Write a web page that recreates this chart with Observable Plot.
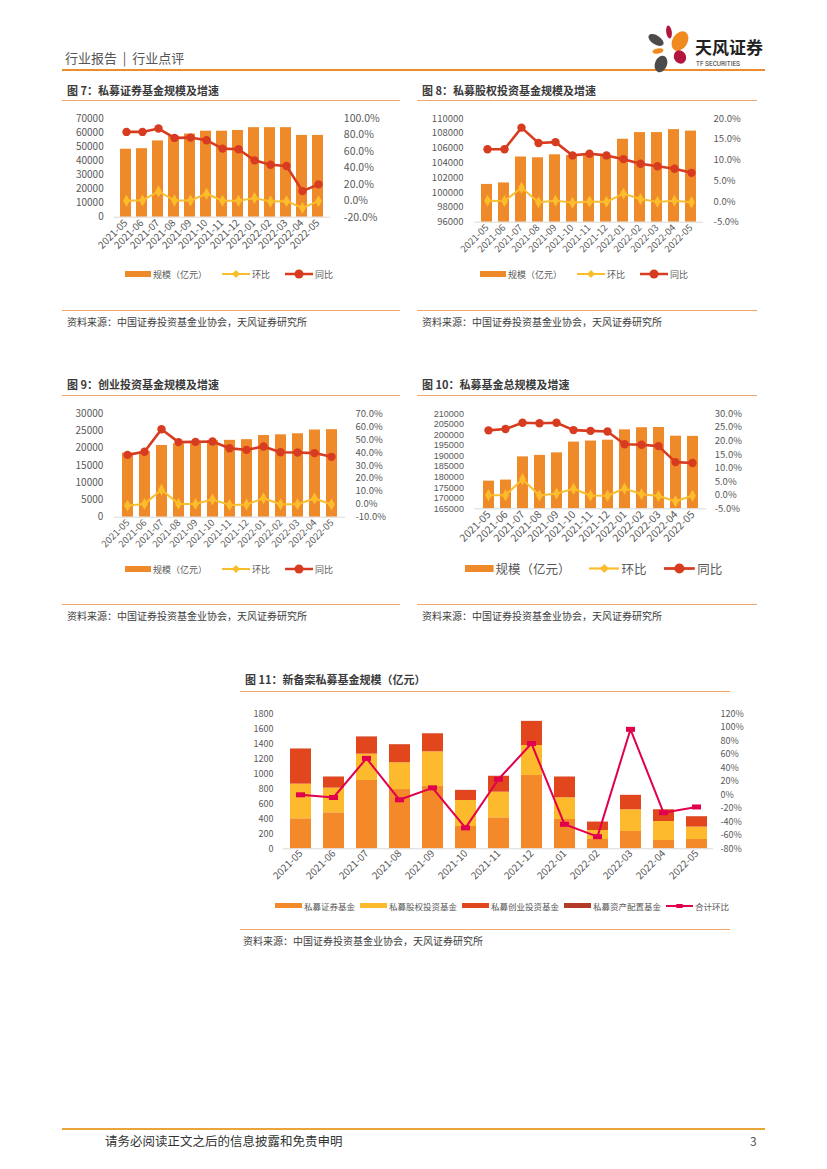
<!DOCTYPE html>
<html><head><meta charset="utf-8">
<script src="https://cdn.jsdelivr.net/npm/d3@7"></script>
<script src="https://cdn.jsdelivr.net/npm/@observablehq/plot@0.6"></script>
<style>
body{margin:0;background:#fff;}
#page{position:relative;width:827px;height:1169px;overflow:hidden;font-family:"Noto Sans CJK SC","Noto Sans",sans-serif;color:#404040;background:#fff;}
.txt{position:absolute;white-space:pre;line-height:1;}
.title{font-weight:bold;font-size:11px;color:#3a3a3a;}
.rule{position:absolute;height:1px;background:#F2A66A;}
.src{font-size:10px;color:#404040;}
.legend{position:absolute;display:flex;align-items:center;white-space:nowrap;color:#595959;}
.legend .item{display:flex;align-items:center;}
.legend svg{display:block;}
</style></head><body><div id="page"></div><script>
// ---------- data ----------
const months = ["2021-05","2021-06","2021-07","2021-08","2021-09","2021-10","2021-11","2021-12","2022-01","2022-02","2022-03","2022-04","2022-05"];

// 图7 私募证券基金
const secScale = [48200,48600,54100,57500,59000,61000,61000,61500,63500,63500,63500,58000,58000];
const secMoM   = [0,0.5,11.3,0.3,0.3,8.5,0,0,3.2,-0.9,-0.5,-8.7,-0.5];
const secYoY   = [83.7,83.7,87.8,76.4,76.8,73.6,63.4,62.6,49.1,43.8,42.3,11.7,19.9];
const secLeftTicks  = [0,10000,20000,30000,40000,50000,60000,70000];
const secRightTicks = [-20,0,20,40,60,80,100];

// 图8 私募股权投资基金
const peScale = [101100,101300,104800,104700,105100,105000,105000,105000,107200,108100,108100,108500,108300];
const peMoM   = [0.2,0.1,3.3,-0.2,0.2,-0.3,0,-0.1,1.9,0.6,-0.1,0.2,-0.2];
const peYoY   = [12.6,12.6,17.8,14.1,14.3,11.1,11.5,11.1,10.2,9.1,8.5,7.9,6.9];
const peLeftTicks  = [96000,98000,100000,102000,104000,106000,108000,110000];
const peRightTicks = [-5,0,5,10,15,20];

// 图9 创业投资基金
const vcScale = [18600,19000,20800,21300,21600,22200,22300,22500,23700,23900,24200,25300,25400];
const vcMoM   = [-1,0.3,11.2,0.3,0.3,3.7,-0.5,-0.2,4.7,0,0,4.5,-0.2];
const vcYoY   = [38.2,40.6,58.1,48.1,48.3,48.6,43.4,42.1,44.7,40.3,40.1,39.6,36.7];
const vcLeftTicks  = [0,5000,10000,15000,20000,25000,30000];
const vcRightTicks = [-10,0,10,20,30,40,50,60,70];

// 图10 私募基金总规模
const totScale = [178100,178600,189600,190300,191500,196600,197100,197500,202400,203400,203500,199400,199300];
const totMoM   = [0,0,5.9,-0.1,0.6,2.4,-0.1,-0.2,2.5,0.4,-0.3,-2.2,-0.2];
const totYoY   = [23.9,24.4,26.7,26.5,26.7,24.0,23.7,23.5,18.8,18.6,18.1,12.2,11.9];
const totLeftTicks  = [165000,170000,175000,180000,185000,190000,195000,200000,205000,210000];
const totRightTicks = [-5,0,5,10,15,20,25,30];

// 图11 新备案私募基金规模（亿元）
const series11 = ["私募证券基金","私募股权投资基金","私募创业投资基金","私募资产配置基金"];
const newSec   = [400,480,911,790,830,297,413,977,391,124,231,111,124];
const newPe    = [462,329,351,357,463,347,342,400,289,120,289,253,165];
const newVc    = [467,147,227,240,240,133,209,320,275,111,191,156,138];
const newAlloc = [3,2,4,3,2,2,3,2,3,2,2,2,2];
const newTotalMoM = [0,-4,54,-7.4,10.3,-49,23,76,-43.7,-62,97,-26.5,-18];
const leftTicks11  = [0,200,400,600,800,1000,1200,1400,1600,1800];
const rightTicks11 = [-80,-60,-40,-20,0,20,40,60,80,100,120];

const legendDual = ["规模（亿元）","环比","同比"];
const sourceText = "资料来源：中国证券投资基金业协会，天风证券研究所";

// ---------- style ----------
const FONT = '"Noto Sans CJK SC","Noto Sans",sans-serif';
const BAR = "#EF8A2B", YEL = "#FBBD2C", RED = "#D83C20";
const colors11 = ["#F4892A","#FDBA2C","#E2461D","#B23A26"];
const LINE11 = "#E0004D";
const page = document.getElementById("page");

function txt(text, x, y, cls, extra) {
  const d = document.createElement("div");
  d.className = "txt " + (cls || "");
  d.textContent = text;
  d.style.left = x + "px";
  d.style.top = y + "px";
  if (extra) Object.assign(d.style, extra);
  page.appendChild(d);
  d.style.top = (y - d.offsetHeight / 2) + "px";
  return d;
}
function rule(x0, x1, y, color, h) {
  const d = document.createElement("div");
  d.className = "rule";
  Object.assign(d.style, {left: x0 + "px", width: (x1 - x0) + "px", top: y + "px", height: (h || 1) + "px", background: color || "#F2A66A"});
  page.appendChild(d);
}
function place(svg, L, T) {
  svg.style.position = "absolute";
  svg.style.left = L + "px";
  svg.style.top = T + "px";
  svg.style.maxWidth = "none";
  page.appendChild(svg);
}
function axisFont(svg, axis, size, family) {
  svg.querySelectorAll(`g[aria-label^="${axis}-axis"] text`).forEach(t => {
    t.setAttribute("font-size", size);
    if (family) t.setAttribute("font-family", family);
  });
}
function swatch(type, color, w, h, marker) {
  const ns = "http://www.w3.org/2000/svg";
  const s = document.createElementNS(ns, "svg");
  s.setAttribute("width", w); s.setAttribute("height", h);
  if (type === "bar") {
    const r = document.createElementNS(ns, "rect");
    r.setAttribute("x", 0); r.setAttribute("y", 0); r.setAttribute("width", w); r.setAttribute("height", h);
    r.setAttribute("fill", color); s.appendChild(r);
  } else {
    const l = document.createElementNS(ns, "line");
    l.setAttribute("x1", 0); l.setAttribute("x2", w); l.setAttribute("y1", h / 2); l.setAttribute("y2", h / 2);
    l.setAttribute("stroke", color); l.setAttribute("stroke-width", marker.sw); s.appendChild(l);
    let m;
    if (marker.kind === "circle") {
      m = document.createElementNS(ns, "circle");
      m.setAttribute("cx", w / 2); m.setAttribute("cy", h / 2); m.setAttribute("r", marker.r);
    } else if (marker.kind === "diamond") {
      m = document.createElementNS(ns, "path");
      const c = w / 2, y = h / 2, r = marker.r;
      m.setAttribute("d", `M${c},${y - r}L${c + r},${y}L${c},${y + r}L${c - r},${y}Z`);
    } else {
      m = document.createElementNS(ns, "rect");
      m.setAttribute("x", w / 2 - marker.r * 1.6); m.setAttribute("y", h / 2 - marker.r);
      m.setAttribute("width", marker.r * 3.2); m.setAttribute("height", marker.r * 2);
    }
    m.setAttribute("fill", color); s.appendChild(m);
  }
  return s;
}
function legend(items, x, y, font, gap, textGap) {
  const d = document.createElement("div");
  d.className = "legend";
  d.style.left = x + "px";
  d.style.fontSize = font + "px";
  d.style.gap = gap + "px";
  for (const it of items) {
    const item = document.createElement("div");
    item.className = "item";
    item.appendChild(swatch(it.type, it.color, it.w, it.h, it.marker));
    const t = document.createElement("span");
    t.textContent = it.label;
    t.style.marginLeft = textGap + "px";
    t.style.lineHeight = "1";
    item.appendChild(t);
    d.appendChild(item);
  }
  page.appendChild(d);
  d.style.top = (y - d.offsetHeight / 2) + "px";
}

function dualChart(o) {
  const [L, T, Wd, Ht] = o.box;
  const [x0, x1, y0, y1] = o.area;
  const margins = {marginLeft: x0 - L, marginRight: L + Wd - x1, marginTop: y0 - T, marginBottom: T + Ht - y1};
  const bars = months.map((m, i) => ({m, lo: o.leftDomain[0], v: o.bars[i]}));
  const mom = months.map((m, i) => ({m, v: o.mom[i]}));
  const yoy = months.map((m, i) => ({m, v: o.yoy[i]}));
  const style = {fontFamily: FONT, fontSize: o.xFont + "px", color: "#595959", background: "transparent", overflow: "visible"};
  const p1 = Plot.plot({
    width: Wd, height: Ht, ...margins, style,
    x: {type: "band", domain: months, paddingInner: o.pad, paddingOuter: o.pad / 2, tickSize: 0, tickPadding: o.xPad, tickRotate: -45, label: null},
    y: {domain: o.leftDomain, ticks: o.leftTicks, tickSize: 0, tickPadding: o.padL, tickFormat: d => String(d), label: null},
    marks: [
      Plot.barY(bars, {x: "m", y1: "lo", y2: "v", fill: BAR}),
      Plot.ruleY([o.leftDomain[0]], {stroke: "#d9d9d9", strokeWidth: 1})
    ]
  });
  axisFont(p1, "y", o.leftFont, o.leftFamily);
  axisFont(p1, "x", o.xFont);
  place(p1, L, T);
  const p2 = Plot.plot({
    width: Wd, height: Ht, ...margins, style,
    x: {type: "point", domain: months, padding: 0.5, axis: null},
    y: {domain: o.rightDomain, ticks: o.rightTicks, axis: "right", tickSize: 0, tickPadding: o.padR, tickFormat: d => d.toFixed(1) + "%", label: null},
    marks: [
      Plot.line(mom, {x: "m", y: "v", stroke: YEL, strokeWidth: 2}),
      Plot.dot(mom, {x: "m", y: "v", symbol: "diamond", r: 3.6, fill: YEL}),
      Plot.line(yoy, {x: "m", y: "v", stroke: RED, strokeWidth: 2.6}),
      Plot.dot(yoy, {x: "m", y: "v", r: 4.2, fill: RED})
    ]
  });
  axisFont(p2, "y", o.rightFont, o.rightFamily);
  place(p2, L, T);
  const sc = o.legendScale || 1;
  legend([
    {type: "bar", color: BAR, w: 26 * sc, h: 6.5 * sc, label: legendDual[0]},
    {type: "line", color: YEL, w: 28 * sc, h: 10 * sc, marker: {kind: "diamond", r: 4 * sc, sw: 2 * sc}, label: legendDual[1]},
    {type: "line", color: RED, w: 28 * sc, h: 10 * sc, marker: {kind: "circle", r: 4.5 * sc, sw: 2.5 * sc}, label: legendDual[2]}
  ], o.legend[0], o.legend[1], o.legendFont, o.legendGap, 2);
}

// ---------- header ----------
txt("行业报告  |  行业点评", 65, 57, "", {fontSize: "13px", color: "#555"});
rule(62, 765, 68.5, "#EE8B2D", 2);
page.insertAdjacentHTML("beforeend", `
<svg style="position:absolute;left:640px;top:20px" width="130" height="56">
  <ellipse cx="16" cy="20" rx="8.5" ry="4.5" transform="rotate(32 16 20)" fill="#4b4b4b"/>
  <ellipse cx="29" cy="12" rx="2.8" ry="6.5" transform="rotate(-8 29 12)" fill="#B3163C"/>
  <ellipse cx="40" cy="21" rx="7.5" ry="10.5" transform="rotate(32 40 21)" fill="#F08A1E"/>
  <ellipse cx="18" cy="31" rx="5.5" ry="2.6" transform="rotate(-10 18 31)" fill="#F08A1E"/>
  <ellipse cx="40" cy="37" rx="6" ry="6.8" transform="rotate(-30 40 37)" fill="#B3163C"/>
  <ellipse cx="21" cy="44" rx="6" ry="8.5" transform="rotate(22 21 44)" fill="#4b4b4b"/>
  <text x="55" y="34" font-family='"Noto Sans CJK SC",sans-serif' font-weight="bold" font-size="17" fill="#222">天风证券</text>
  <text x="56" y="46" font-family="Roboto,'DejaVu Sans Condensed',sans-serif" font-size="6.5" fill="#333">TF SECURITIES</text>
</svg>`);

// ---------- titles, rules, sources ----------
txt("图 7：私募证券基金规模及增速", 67, 90, "title");
txt("图 8：私募股权投资基金规模及增速", 422, 90, "title");
txt("图 9：创业投资基金规模及增速", 67, 384, "title");
txt("图 10：私募基金总规模及增速", 422, 384, "title");
txt("图 11：新备案私募基金规模（亿元）", 245, 679, "title");
rule(62, 400, 100); rule(417, 757, 100);
rule(62, 400, 395); rule(417, 757, 395);
rule(240, 730, 691);
rule(62, 400, 310); rule(417, 757, 310);
rule(62, 400, 604); rule(417, 757, 604);
rule(240, 730, 929);
txt(sourceText, 67, 322, "src"); txt(sourceText, 422, 322, "src");
txt(sourceText, 67, 616, "src"); txt(sourceText, 422, 616, "src");
txt(sourceText, 243, 941, "src");

// ---------- charts 7-10 ----------
dualChart({box: [55, 105, 350, 165], area: [113.7, 330.3, 118, 216.7], bars: secScale, mom: secMoM, yoy: secYoY,
  leftDomain: [0, 70000], leftTicks: secLeftTicks, rightDomain: [-20, 100], rightTicks: secRightTicks,
  pad: 0.3, padL: 10.5, padR: 13, xPad: 4, leftFont: 10, rightFont: 10.5, xFont: 10,
  legend: [125, 274], legendFont: 9, legendGap: 15});
dualChart({box: [410, 105, 360, 165], area: [474.5, 703.1, 118, 221.7], bars: peScale, mom: peMoM, yoy: peYoY,
  leftDomain: [96000, 110000], leftTicks: peLeftTicks, rightDomain: [-5, 20], rightTicks: peRightTicks,
  pad: 0.36, padL: 11.5, padR: 10, xPad: 4, leftFont: 9.5, rightFont: 9.5, xFont: 9.5,
  legend: [480, 274], legendFont: 9, legendGap: 15});
dualChart({box: [55, 400, 350, 165], area: [113.8, 345, 413.3, 516.7], bars: vcScale, mom: vcMoM, yoy: vcYoY,
  leftDomain: [0, 30000], leftTicks: vcLeftTicks, rightDomain: [-10, 70], rightTicks: vcRightTicks,
  pad: 0.38, padL: 11, padR: 10, xPad: 4, leftFont: 10, rightFont: 9.5, xFont: 9.5,
  legend: [125, 569], legendFont: 9, legendGap: 15});
dualChart({box: [410, 400, 360, 165], area: [474.4, 706.2, 413.3, 508.3], bars: totScale, mom: totMoM, yoy: totYoY,
  leftDomain: [165000, 210000], leftTicks: totLeftTicks, rightDomain: [-5, 30], rightTicks: totRightTicks,
  pad: 0.36, padL: 11, padR: 8, xPad: 4, leftFont: 9, leftFamily: '"Liberation Sans",sans-serif', rightFont: 9.5, xFont: 10.5,
  legend: [465, 569], legendFont: 12.5, legendGap: 18, legendScale: 1.1});

// ---------- chart 11 ----------
(function () {
  const L = 240, T = 700, Wd = 520, Ht = 175;
  const x0 = 283, x1 = 713, y0 = 713.3, y1 = 848.3;
  const margins = {marginLeft: x0 - L, marginRight: L + Wd - x1, marginTop: y0 - T, marginBottom: T + Ht - y1};
  const vals = [newSec, newPe, newVc, newAlloc];
  const long = series11.flatMap((s, j) => months.map((m, i) => ({m, s, v: vals[j][i]})));
  const line = months.map((m, i) => ({m, v: newTotalMoM[i]}));
  const style = {fontFamily: FONT, fontSize: "10px", color: "#595959", background: "transparent", overflow: "visible"};
  const p1 = Plot.plot({
    width: Wd, height: Ht, ...margins, style,
    x: {type: "band", domain: months, paddingInner: 0.375, paddingOuter: 0.1875, tickSize: 0, tickPadding: 3, tickRotate: -45, label: null},
    y: {domain: [0, 1800], ticks: leftTicks11, tickSize: 0, tickPadding: 10, tickFormat: d => String(d), label: null},
    color: {domain: series11, range: colors11},
    marks: [
      Plot.barY(long, {x: "m", y: "v", fill: "s"}),
      Plot.ruleY([0], {stroke: "#d9d9d9"})
    ]
  });
  axisFont(p1, "y", 9);
  axisFont(p1, "x", 10);
  place(p1, L, T);
  const sym = {draw(ctx, size) { ctx.rect(-4.5, -2.5, 9, 5); }};
  const p2 = Plot.plot({
    width: Wd, height: Ht, ...margins, style,
    x: {type: "point", domain: months, padding: 0.5, axis: null},
    y: {domain: [-80, 120], ticks: rightTicks11, axis: "right", tickSize: 0, tickPadding: 7, tickFormat: d => d + "%", label: null},
    marks: [
      Plot.line(line, {x: "m", y: "v", stroke: LINE11, strokeWidth: 2}),
      Plot.dot(line, {x: "m", y: "v", symbol: sym, fill: LINE11, r: 3})
    ]
  });
  axisFont(p2, "y", 9);
  place(p2, L, T);
  legend(series11.map((s, j) => ({type: "bar", color: colors11[j], w: 27, h: 5, label: s}))
    .concat([{type: "line", color: LINE11, w: 27, h: 8, marker: {kind: "rect", r: 2, sw: 2}, label: "合计环比"}]),
    275, 906, 8.5, 5, 2);
})();

// ---------- footer ----------
rule(62, 765, 1128, "#EBA43A", 2);
txt("请务必阅读正文之后的信息披露和免责申明", 105, 1141, "", {fontSize: "12.5px", color: "#333"});
txt("3", 750, 1141, "", {fontSize: "12px", color: "#555"});
</script></body></html>
